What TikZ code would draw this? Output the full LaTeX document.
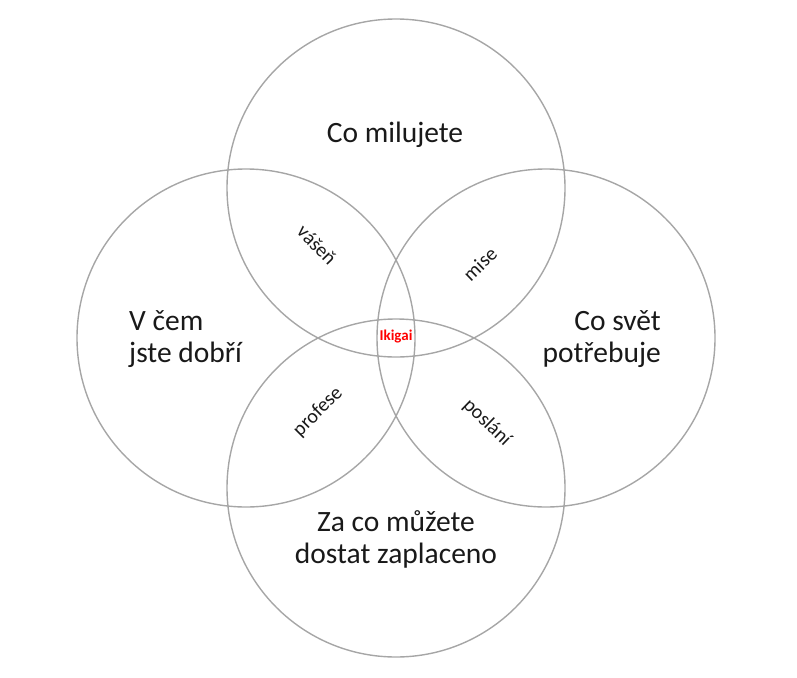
\documentclass[tikz,border=0pt]{standalone}
\usepackage{fontspec}
\setmainfont{Carlito}
\begin{document}
\begin{tikzpicture}[x=1pt,y=-1pt,
  ring/.style={draw=black!35, line width=1.4pt},
  biglabel/.style={font=\fontsize{29.5}{32}\selectfont, text=black!90, inner sep=0pt},
  smalllabel/.style={font=\fontsize{20}{24}\selectfont, text=black!90, inner sep=0pt},
  centerlabel/.style={font=\bfseries\fontsize{15}{18}\selectfont, text=red, inner sep=0pt}]
\useasboundingbox (0,0) rectangle (797,677);
\coordinate (ctop) at (396,188);
\coordinate (cbot) at (396,488);
\coordinate (cleft) at (246,338);
\coordinate (cright) at (546,338);
\draw[ring] (ctop) circle[radius=169];
\draw[ring] (cbot) circle[radius=169];
\draw[ring] (cleft) circle[radius=169];
\draw[ring] (cright) circle[radius=169];
\node[biglabel, anchor=base] (love) at (395,142) {Co milujete};
\node[biglabel, anchor=base west, align=left] (good) at (129,362) {V čem\\jste dobří};
\node[biglabel, anchor=base east, align=right] (need) at (661,362) {Co svět\\potřebuje};
\node[biglabel, anchor=base, align=center] (paid) at (396,563) {Za co můžete\\dostat zaplaceno};
\node[smalllabel, rotate=-46] (passion) at (317,245) {vášeň};
\node[smalllabel, rotate=44] (mission) at (480,264) {mise};
\node[smalllabel, rotate=45] (profession) at (318,412) {profese};
\node[smalllabel, rotate=-44] (vocation) at (487,423) {poslání};
\node[centerlabel] (ikigai) at (396,337) {Ikigai};
\end{tikzpicture}
\end{document}
